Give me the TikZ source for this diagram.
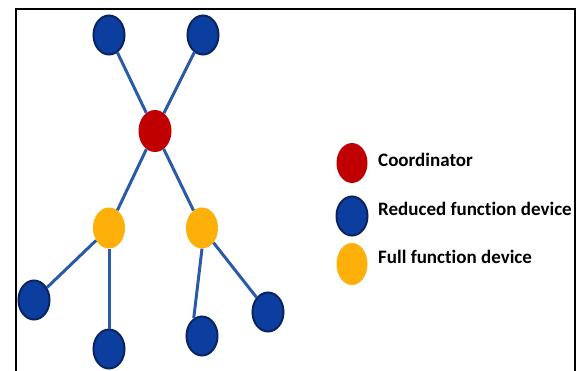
\documentclass[tikz,border=0pt]{standalone}
\usepackage{fontspec}
\setmainfont[Ligatures=NoCommon]{Carlito}
\usetikzlibrary{shapes.geometric}
\definecolor{rfdfill}{HTML}{0B3E9E}
\definecolor{rfdline}{HTML}{0A2460}
\definecolor{coordfill}{HTML}{C00000}
\definecolor{ffdfill}{HTML}{FDB009}
\definecolor{edgecol}{HTML}{2B5BA8}
\tikzset{
  dev/.style={ellipse, minimum width=31pt, minimum height=39pt, inner sep=0pt},
  rfd/.style={dev, fill=rfdfill, draw=rfdline, line width=2pt},
  coord/.style={dev, fill=coordfill, minimum width=33pt, minimum height=42pt},
  ffd/.style={dev, fill=ffdfill, minimum width=32pt, minimum height=41pt},
  link/.style={draw=edgecol, line width=3pt},
  legtext/.style={anchor=west, font=\fontsize{19pt}{22pt}\selectfont\bfseries, inner sep=0pt}
}
\begin{document}
\begin{tikzpicture}[x=1pt,y=-1pt]
\useasboundingbox (0,0) rectangle (584,370);
\fill[white] (0,0) rectangle (584,370);
\draw[line width=2.6pt] (16,371) -- (16,9) -- (575,9) -- (575,371);
% nodes
\node[rfd] (t1) at (109,35) {};
\node[rfd] (t2) at (203,35) {};
\node[coord] (c) at (155,131) {};
\node[ffd] (f1) at (109,228) {};
\node[ffd] (f2) at (202,228) {};
\node[rfd] (b1) at (34,300) {};
\node[rfd] (b2) at (109,349) {};
\node[rfd] (b3) at (202,336) {};
\node[rfd] (b4) at (268,312) {};
% links
\path[link] (t1) -- (c);
\path[link] (t2) -- (c);
\path[link] (c) -- (f1);
\path[link] (c) -- (f2);
\path[link] (f1) -- (b1);
\path[link] (f1) -- (b2);
\path[link] (f2.south) -- (b3.115);
\path[link] (f2) -- (b4);
% legend
\node[coord, minimum width=31pt, minimum height=40pt] (lc) at (352,163) {};
\node[rfd] (lr) at (352,216) {};
\node[ffd, minimum width=31pt, minimum height=42pt] (lf) at (352,264) {};
\node[legtext] (tc) at (378,160) {Coordinator};
\node[legtext] (tr) at (378,209) {Reduced function device};
\node[legtext] (tf) at (378,257) {Full function device};
\end{tikzpicture}
\end{document}
